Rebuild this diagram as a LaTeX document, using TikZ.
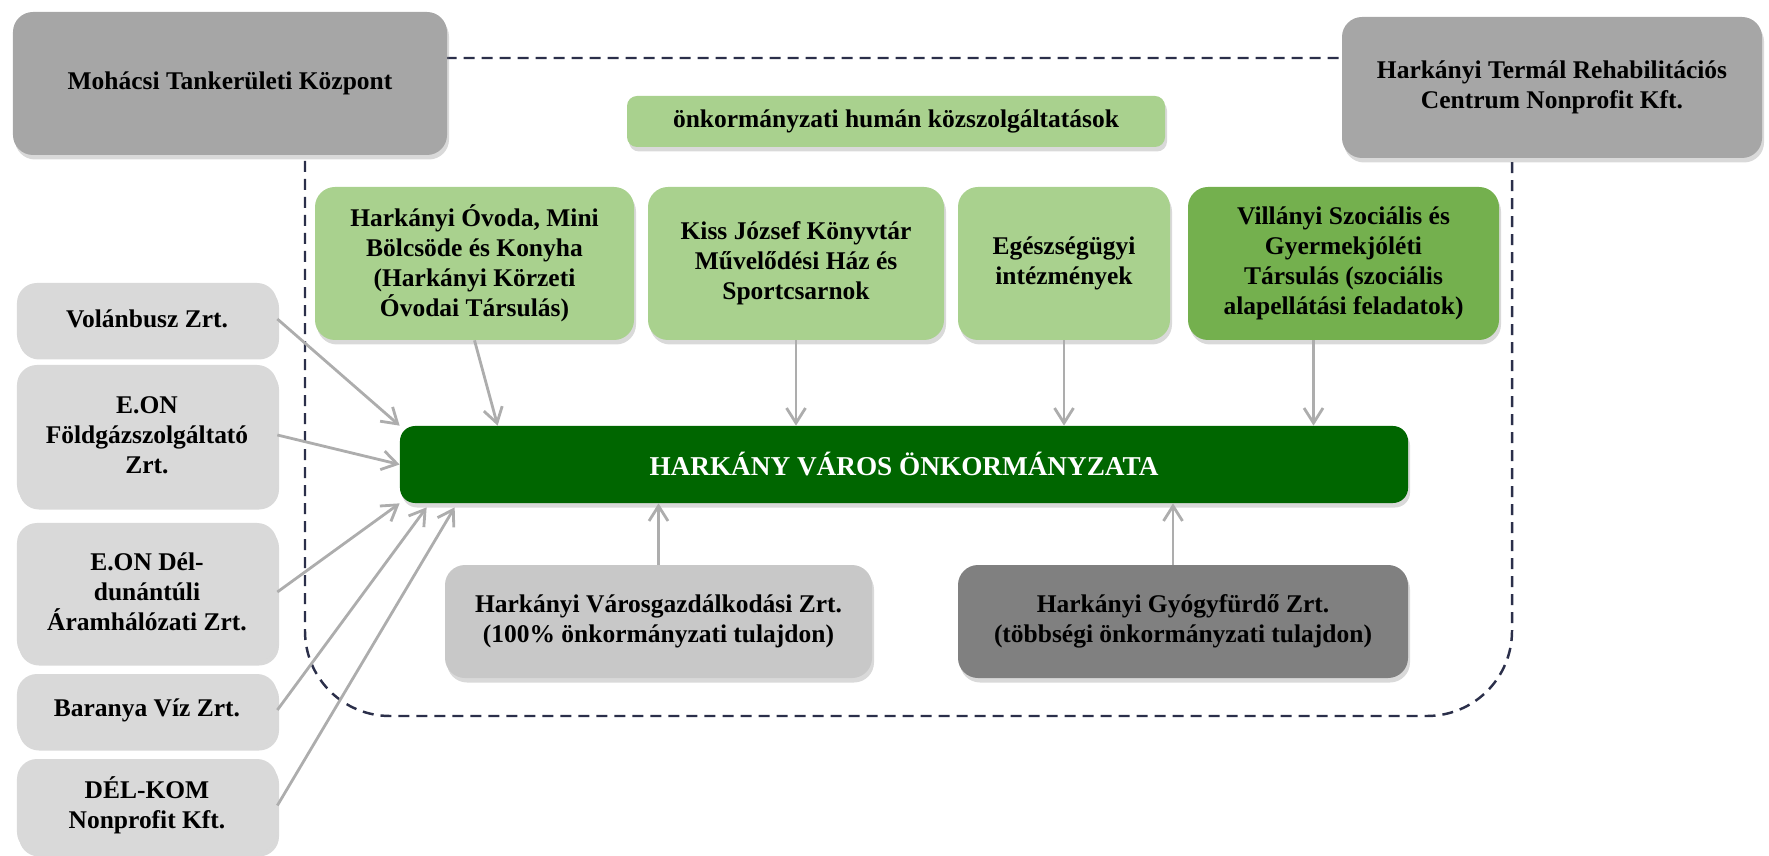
\documentclass[tikz,border=0pt]{standalone}
\usepackage{fontspec}
\setmainfont{Liberation Serif}
\usetikzlibrary{arrows.meta,shadows}
\definecolor{midgray}{HTML}{A6A6A6}
\definecolor{lightgray}{HTML}{D9D9D9}
\definecolor{firmgray}{HTML}{C8C8C8}
\definecolor{darkgray}{HTML}{808080}
\definecolor{palegreen}{HTML}{A9D18E}
\definecolor{leafgreen}{HTML}{74B04E}
\definecolor{deepgreen}{HTML}{006600}
\definecolor{arrgray}{HTML}{ADADAD}
\definecolor{navy}{HTML}{2B2F4A}
\tikzset{
	box/.style={rounded corners=4mm, align=center, inner sep=2pt, text=black,
		font=\fontsize{14.5}{17}\selectfont\bfseries,
		drop shadow={shadow xshift=0.4mm, shadow yshift=-0.9mm, opacity=0.3}},
	sz/.style 2 args={minimum width=#1mm, minimum height=#2mm},
	arr/.style={->, draw=arrgray, line width=1.6pt},
	region/.style={draw=navy, line width=1.4pt, dash pattern=on 2.2mm off 1.4mm, rounded corners=17mm},
}
\begin{document}
\begin{tikzpicture}[x=0.2mm,y=-0.2mm,>={Straight Barb[length=3mm,width=3.8mm]}]
	\useasboundingbox (0,0) rectangle (1769,856);
	\draw[region] (305,58) rectangle (1512,716);
	\node[box, fill=midgray, sz={86.8}{28.6}] (mohacs) at (230,83.5) {Mohácsi Tankerületi Központ};
	\node[box, fill=midgray, sz={84}{28.2}] (termal) at (1552,87.5) {Harkányi Termál Rehabilitációs\\Centrum Nonprofit Kft.};
	\node[box, fill=palegreen, sz={107.6}{10.2}, rounded corners=2mm] (human) at (896,121.5) {önkormányzati humán közszolgáltatások};
	\node[box, fill=palegreen, sz={63.8}{30.6}] (ovoda) at (474.5,263.5) {Harkányi Óvoda, Mini\\Bölcsöde és Konyha\\(Harkányi Körzeti\\Óvodai Társulás)};
	\node[box, fill=palegreen, sz={59.2}{30.6}] (kiss) at (796,263.5) {Kiss József Könyvtár\\Művelődési Ház és\\Sportcsarnok};
	\node[box, fill=palegreen, sz={42.4}{30.6}] (egesz) at (1064,263.5) {Egészségügyi\\intézmények};
	\node[box, fill=leafgreen, sz={62.2}{30.6}] (villanyi) at (1343.5,263.5) {Villányi Szociális és\\Gyermekjóléti\\Társulás (szociális\\alapellátási feladatok)};
	\node[box, fill=deepgreen, sz={201.6}{15.4}, rounded corners=3mm, text=white, font=\fontsize{15.5}{18}\selectfont\bfseries] (main) at (904,464.5) {HARKÁNY VÁROS ÖNKORMÁNYZATA};
	\node[box, fill=firmgray, sz={85.4}{22.6}] (varos) at (658.5,621.5) {Harkányi Városgazdálkodási Zrt.\\(100\% önkormányzati tulajdon)};
	\node[box, fill=darkgray, sz={90}{22.6}] (gyogy) at (1183,621.5) {Harkányi Gyógyfürdő Zrt.\\(többségi önkormányzati tulajdon)};
	\node[box, fill=lightgray, sz={52}{14.4}] (volan) at (147,319) {Volánbusz Zrt.};
	\node[box, fill=lightgray, sz={52}{28}] (foldgaz) at (147,435) {E.ON\\Földgázszolgáltató\\Zrt.};
	\node[box, fill=lightgray, sz={52}{27.6}] (deldun) at (147,592) {E.ON Dél-\\dunántúli\\Áramhálózati Zrt.};
	\node[box, fill=lightgray, sz={52}{14.4}] (baranya) at (147,710) {Baranya Víz Zrt.};
	\node[box, fill=lightgray, sz={52}{18.6}] (delkom) at (147,805.5) {DÉL-KOM\\Nonprofit Kft.};
	\coordinate (vil) at ([xshift=-6mm]villanyi.south);
	\coordinate (gy) at ([xshift=-2mm]gyogy.north);
	\draw[arr] (ovoda.south) -- ([xshift=19.6mm]main.north west);
	\draw[arr] (kiss.south) -- (kiss.south |- main.north);
	\draw[arr] (egesz.south) -- (egesz.south |- main.north);
	\draw[arr] (vil) -- (vil |- main.north);
	\draw[arr] (varos.north) -- (varos.north |- main.south);
	\draw[arr] (gy) -- (gy |- main.south);
	\draw[arr] (volan.east) -- (main.north west);
	\draw[arr] (foldgaz.east) -- (main.west);
	\draw[arr] (deldun.east) -- (main.south west);
	\draw[arr] (baranya.east) -- ([xshift=5.4mm,yshift=-0.8mm]main.south west);
	\draw[arr] (delkom.east) -- ([xshift=11mm,yshift=-0.8mm]main.south west);
\end{tikzpicture}
\end{document}
